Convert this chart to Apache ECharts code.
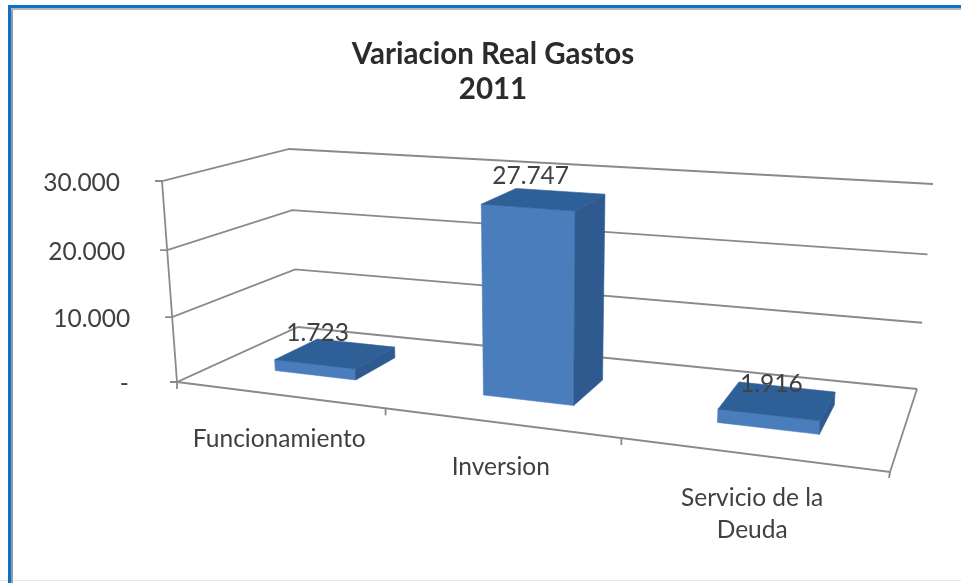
<!DOCTYPE html>
<html><head><meta charset="utf-8">
<style>html,body{margin:0;padding:0;background:#fff}#c{width:961px;height:583px}#c canvas{filter:blur(0.5px)}</style>
<script src="https://cdn.jsdelivr.net/npm/echarts@6/dist/echarts.min.js"></script>
</head><body><div id="c"></div>
<script>
const categories = ['Funcionamiento', 'Inversion', 'Servicio de la\nDeuda'];
const values = [1723, 27747, 1916];
const valueLabels = ['1.723', '27.747', '1.916'];
const ticks = [0, 10000, 20000, 30000];
const tickLabels = ['- ', '10.000', '20.000', '30.000'];
const title = 'Variacion Real Gastos\n2011';

// Perspective of the 3D box
const floorQuad = [[177,382],[890,472],[917,389],[298,327]]; // front-left, front-right, back-right, back-left
const wallHeights = [201,232,205,178];                        // same corners, height of the full value range
const verticalVP = [539,5235];                                // where the uprights converge
const frontRatio = 0.827;                                     // foreshortening along the front edge
const persp = -0.045, barWidth = 0.40, d0 = 0.30, d1 = 0.67;
const FONT = 'Lato, "Open Sans", sans-serif';
const GRID = '#8a8a8a', TXT = '#404040';

function hom(q){
  const [x0,y0]=q[0],[x1,y1]=q[1],[x2,y2]=q[2],[x3,y3]=q[3];
  const dx1=x1-x2,dx2=x3-x2,sx=x0-x1+x2-x3,dy1=y1-y2,dy2=y3-y2,sy=y0-y1+y2-y3;
  const den=dx1*dy2-dx2*dy1,g=(sx*dy2-dx2*sy)/den,h=(dx1*sy-sx*dy1)/den;
  const a=x1-x0+g*x1,b=x3-x0+h*x3,d=y1-y0+g*y1,e=y3-y0+h*y3;
  const f=(u,v)=>{const w=g*u+h*v+1;return [(a*u+b*v+x0)/w,(d*u+e*v+y0)/w];};
  f.r=1+g;
  return f;
}
const hf=hom(floorQuad);
function uMap(u){
  const phi=u*frontRatio/(1-u+u*frontRatio), r=hf.r;
  return phi/(r+phi-phi*r);
}
function P(u,d,v){
  const t=v*(1+persp)/(1+persp*v), p=hf(uMap(u),d);
  const H=wallHeights;
  const h=(H[0]*(1-u)+H[1]*u)*(1-d)+(H[3]*(1-u)+H[2]*u)*d;
  const up=h*t;
  return [p[0]-up*(verticalVP[0]-p[0])/(verticalVP[1]-p[1]), p[1]-up];
}
// library scales -> unit coordinates
function unit(api,params,cat,val){
  const s=params.coordSys, c=api.coord([cat,val]);
  return [(c[0]-s.x)/s.width, (s.y+s.height-c[1])/s.height];
}
function bandU(api,params){return api.size([1,0])[0]/params.coordSys.width;}
const lineStyle={stroke:GRID,lineWidth:1.8,fill:null};
function line(pts,style){return {type:'polyline',shape:{points:pts},style:Object.assign({},lineStyle,style||{})};}
function poly(pts,fill){return {type:'polygon',shape:{points:pts},style:{fill:fill,stroke:fill,lineWidth:0.6}};}

function renderTick(params,api){
  const [,v]=unit(api,params,0,api.value(0));
  const fl=P(0,0,v),bl=P(0,1,v),br=P(1,1,v);
  const kids=[line([[fl[0]-7,fl[1]],fl,bl,br])];
  kids.push({type:'text',style:{text:tickLabels[params.dataIndex],x:fl[0]-42,y:fl[1]+2,align:'right',verticalAlign:'middle',font:'24.5px '+FONT,fill:TXT}});
  return {type:'group',children:kids};
}
function renderFrame(params,api){
  const band=bandU(api,params), kids=[];
  kids.push(line([P(0,0,0),P(0,0,1)]));
  const fr=P(1,0,0);
  kids.push(line([P(0,0,0),fr,P(1,1,0)]));
  kids.push(line([fr,[fr[0]-1,fr[1]+6]]));
  const z=P(0,0,0); kids.push(line([z,[z[0],z[1]+7]]));
  for(let i=1;i<categories.length;i++){const p=P(i*band,0,0);kids.push(line([p,[p[0],p[1]+7]]));}
  return {type:'group',children:kids};
}
function renderBar(params,api){
  const i=api.value(0), [u,v]=unit(api,params,i,api.value(1)), w=bandU(api,params)*barWidth/2;
  const a=u-w,b=u+w;
  const mid=P(u,d0,v);
  return {type:'group',children:[
    poly([P(a,d0,0),P(b,d0,0),P(b,d0,v),P(a,d0,v)],'#4a7dbc'),
    poly([P(b,d0,0),P(b,d1,0),P(b,d1,v),P(b,d0,v)],'#2e5a8f'),
    poly([P(a,d0,v),P(b,d0,v),P(b,d1,v),P(a,d1,v)],'#2f5f97'),
    {type:'text',style:{text:valueLabels[params.dataIndex],x:mid[0]+3,y:mid[1]-31,align:'center',verticalAlign:'middle',font:'24.5px '+FONT,fill:TXT}}
  ]};
}
function renderCat(params,api){
  const i=api.value(0),[u]=unit(api,params,i,0), p=P(u,0,0);
  return {type:'text',style:{text:categories[i],x:p[0]+1,y:p[1]+28,align:'center',verticalAlign:'top',lineHeight:32,font:'24.5px '+FONT,fill:TXT}};
}
const chart=echarts.init(document.getElementById('c'),null,{renderer:'canvas'});
const base={type:'custom',coordinateSystem:'cartesian2d',silent:true,animation:false,clip:false};
chart.setOption({
  animation:false,backgroundColor:'#ffffff',
  title:{text:title,left:488,top:32,textAlign:'center',textStyle:{fontFamily:FONT,fontWeight:'bold',fontSize:29.5,color:'#2b2b2b',lineHeight:35}},
  grid:{left:100,right:100,top:100,bottom:100},
  xAxis:{type:'category',data:categories,show:false},
  yAxis:{type:'value',min:0,max:30000,interval:10000,show:false},
  graphic:[
    {type:'rect',z:-1,shape:{x:0,y:580,width:961,height:1},style:{fill:'#e6e6e6'}},
    {type:'rect',z:-1,shape:{x:11,y:8,width:2,height:575},style:{fill:'#9a9a9a'}},
    {type:'rect',z:-1,shape:{x:11,y:8,width:950,height:2},style:{fill:'#b5b5b5'}},
    {type:'rect',z:0,shape:{x:8,y:5,width:3,height:578},style:{fill:'#0a72c8'}},
    {type:'rect',z:0,shape:{x:8,y:5,width:953,height:3},style:{fill:'#0a72c8'}}
  ],
  series:[
    Object.assign({},base,{z:2,data:ticks.map(t=>[t]),encode:{y:0},renderItem:renderTick}),
    Object.assign({},base,{z:2,data:[[0]],renderItem:renderFrame}),
    Object.assign({},base,{z:3,data:values.map((v,i)=>[i,v]),encode:{x:0,y:1},renderItem:renderBar}),
    Object.assign({},base,{z:3,data:categories.map((c,i)=>[i]),encode:{x:0},renderItem:renderCat})
  ]
});
</script></body></html>
